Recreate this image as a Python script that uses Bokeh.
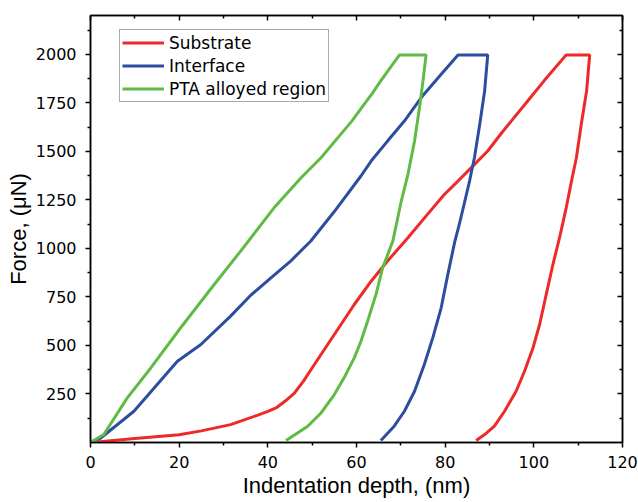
from bokeh.plotting import figure
from bokeh.models import FixedTicker, LinearAxis, Range1d, Legend, LegendItem, CustomJSTickFormatter
from bokeh.embed import file_html
from bokeh.resources import INLINE

# Data: loading branch, hold, unloading branch
sub_x = [1.6, 10, 20, 25, 31.6, 37.6, 40.0, 42.0, 44.0, 46.0, 48.0, 50.5, 53.5, 56.5, 59.5, 63.3, 67.0, 71.6,
         76.1, 79.8, 82.9, 85.9, 89.6, 92.5, 94.9, 98.7, 102.4, 107.3,
         112.6, 111.9, 110.7, 109.6, 108.5, 107.3, 105.8, 104.3, 102.8, 101.3, 99.8, 97.9, 96.0, 93.4, 91.1,
         88.9, 87.0]
sub_f = [3, 20, 40, 60, 92, 140, 160, 180, 215, 255, 315, 402, 505, 608, 711, 831, 935, 1055,
         1178, 1278, 1347, 1416, 1502, 1588, 1656, 1762, 1866, 1997,
         1997, 1811, 1640, 1467, 1347, 1209, 1055, 917, 763, 608, 487, 367, 264, 161, 84,
         41, 10]

int_x = [0, 2.3, 9.8, 19.6, 24.9, 31.6, 36.2, 40.7, 45.2, 49.7, 55, 61.0, 63.3, 67.0, 70.8, 74.6, 79.1, 82.9,
         89.6, 88.9, 87.8, 86.6, 85.5, 84.3, 83.2, 82.2, 80.6, 79.1, 77.2, 75.3, 73.1, 70.8, 68.5, 65.5]
int_f = [0, 23, 161, 419, 505, 651, 760, 848, 936, 1038, 1190, 1373, 1450, 1553, 1656, 1777, 1897, 1997,
         1997, 1811, 1640, 1467, 1347, 1230, 1125, 1038, 866, 694, 539, 402, 264, 161, 84, 10]

pta_x = [0, 3, 8.3, 13.6, 20.3, 27.9, 34.0, 41.4, 47.5, 52, 56, 59, 61.0, 63.6, 65.5, 69.7,
         75.7, 75.0, 74.2, 73.1, 71.6, 70.1, 68.2, 67.4, 65.9, 64.4, 62.5, 61.0, 59.5, 57.2, 55.0, 52.0,
         49.0, 44.1]
pta_f = [0, 41, 230, 384, 590, 814, 990, 1209, 1364, 1467, 1576, 1657, 1720, 1800, 1864, 1997,
         1997, 1863, 1725, 1553, 1382, 1244, 1038, 990, 900, 763, 625, 522, 436, 333, 247, 152,
         84, 10]

x_ticks = [0, 20, 40, 60, 80, 100, 120]
x_minor = [10, 30, 50, 70, 90, 110]
y_ticks = [250, 500, 750, 1000, 1250, 1500, 1750, 2000]
y_minor = [125, 375, 625, 875, 1125, 1375, 1625, 1875, 2125]

LABEL_FONT = "Liberation Sans"
TICK_FONT = "DejaVu Sans"

p = figure(width=638, height=502, output_backend="svg", toolbar_location=None,
           x_range=Range1d(0, 120), y_range=Range1d(0, 2200),
           min_border_left=90, min_border_right=16, min_border_top=15, min_border_bottom=60,
           x_axis_label="Indentation depth, (nm)", y_axis_label="Force, (\u03bcN)")
p.grid.visible = False
p.outline_line_color = "black"
p.outline_line_width = 1.5

r1 = p.line(sub_x, sub_f, line_color="#ED2A27", line_width=3)
r2 = p.line(int_x, int_f, line_color="#2D4E9E", line_width=3)
r3 = p.line(pta_x, pta_f, line_color="#60BB45", line_width=3)

for ax, ticks, minor in [(p.xaxis[0], x_ticks, x_minor), (p.yaxis[0], y_ticks, y_minor)]:
    ax.ticker = FixedTicker(ticks=ticks, minor_ticks=minor)
    ax.axis_line_width = 1.5
    ax.major_tick_line_width = 1.5
    ax.minor_tick_line_width = 1.5
    ax.major_tick_out = 5
    ax.major_tick_in = 0
    ax.minor_tick_out = 3
    ax.minor_tick_in = 0
    ax.major_label_text_font = TICK_FONT
    ax.major_label_text_font_size = "16px"
    ax.major_label_text_color = "black"
    ax.axis_label_text_font = LABEL_FONT
    ax.axis_label_text_font_size = "22px"
    ax.axis_label_text_font_style = "normal"
    ax.axis_label_text_color = "black"

p.xaxis[0].axis_label_standoff = 2
p.xaxis[0].major_label_standoff = 8
p.yaxis[0].axis_label_standoff = 2
p.yaxis[0].major_label_standoff = 9

blank = CustomJSTickFormatter(code="return ''")
top = LinearAxis(ticker=FixedTicker(ticks=x_ticks, minor_ticks=x_minor), formatter=blank,
                 major_tick_in=5, major_tick_out=0, minor_tick_in=3, minor_tick_out=0,
                 axis_line_width=1.5, major_tick_line_width=1.5, minor_tick_line_width=1.5,
                 major_label_standoff=0)
right = LinearAxis(ticker=FixedTicker(ticks=y_ticks, minor_ticks=y_minor), formatter=blank,
                   major_tick_in=5, major_tick_out=0, minor_tick_in=3, minor_tick_out=0,
                   axis_line_width=1.5, major_tick_line_width=1.5, minor_tick_line_width=1.5,
                   major_label_standoff=0)
p.add_layout(top, "above")
p.add_layout(right, "right")

legend = Legend(items=[LegendItem(label="Substrate", renderers=[r1]),
                       LegendItem(label="Interface", renderers=[r2]),
                       LegendItem(label="PTA alloyed region", renderers=[r3])],
                location=(29, 340))
legend.label_text_font = TICK_FONT
legend.label_text_font_size = "17px"
legend.label_text_color = "black"
legend.glyph_width = 42
legend.glyph_height = 21
legend.label_height = 21
legend.spacing = 2
legend.padding = 2
legend.margin = 0
legend.label_standoff = 5
legend.border_line_color = "#555555"
legend.border_line_width = 1
legend.background_fill_alpha = 1
p.add_layout(legend, "center")

open("out.html", "w").write(file_html(p, INLINE))
